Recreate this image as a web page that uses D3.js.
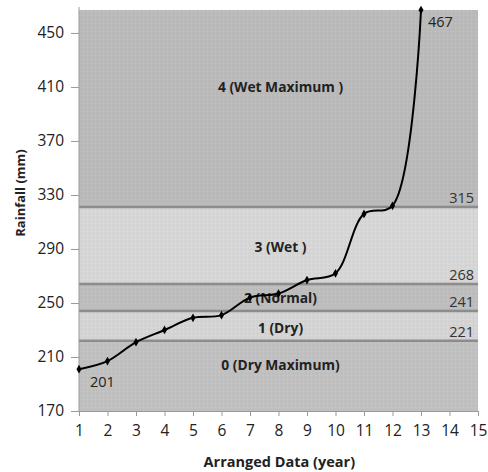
<!DOCTYPE html>
<html>
<head>
<meta charset="utf-8">
<script src="https://cdn.jsdelivr.net/npm/d3@7.9.0/dist/d3.min.js"></script>
<style>
  body { margin: 0; background: #fff; }
  svg text { font-family: "Open Sans", "DejaVu Sans", sans-serif; }
</style>
</head>
<body>
<svg id="chart" width="488" height="472"></svg>
<script>
// data
const years = [1, 2, 3, 4, 5, 6, 7, 8, 9, 10, 11, 12, 13];
const rainfall = [201, 207, 221, 230, 239, 241, 254, 257, 267, 272, 316, 322, 467];
const xTicks = [1, 2, 3, 4, 5, 6, 7, 8, 9, 10, 11, 12, 13, 14, 15];
const yTicks = [170, 210, 250, 290, 330, 370, 410, 450];
const thresholds = [222, 244, 264, 321];
const thresholdLabels = ['221', '241', '268', '315'];
const classNames = ['0 (Dry Maximum)', '1 (Dry)', '2 (Normal)', '3 (Wet )', '4 (Wet Maximum )'];
const classLabelY = [204, 231.5, 253.5, 291.5, 410];
const bandColors = ['#c0c0c0', '#d4d4d4', '#bdbdbd', '#d6d6d6', '#bababa'];

const svg = d3.select('#chart');
const margin = { left: 79, right: 10, top: 10, bottom: 61 };
const width = 488 - margin.left - margin.right;
const height = 472 - margin.top - margin.bottom;

const x = d3.scaleLinear().domain([1, 15]).range([margin.left, margin.left + width]);
const y = d3.scaleLinear().domain([170, 467]).range([margin.top + height, margin.top]);

// dotted texture
const defs = svg.append('defs');
bandColors.forEach((c, i) => {
  const p = defs.append('pattern')
    .attr('id', 'tex' + i)
    .attr('width', 4).attr('height', 4)
    .attr('patternUnits', 'userSpaceOnUse');
  p.append('rect').attr('width', 4).attr('height', 4).attr('fill', c);
  p.append('rect').attr('x', 1).attr('y', 1).attr('width', 1).attr('height', 1)
    .attr('fill', d3.color(c).darker(0.12));
  p.append('rect').attr('x', 3).attr('y', 3).attr('width', 1).attr('height', 1)
    .attr('fill', d3.color(c).brighter(0.12));
});

// bands
const edges = [170, ...thresholds, 467];
svg.append('g').selectAll('rect')
  .data(bandColors)
  .join('rect')
  .attr('x', x(1))
  .attr('width', x(15) - x(1))
  .attr('y', (_, i) => y(edges[i + 1]))
  .attr('height', (_, i) => y(edges[i]) - y(edges[i + 1]))
  .attr('fill', (_, i) => `url(#tex${i})`);

// threshold lines
svg.append('g').selectAll('line')
  .data(thresholds)
  .join('line')
  .attr('x1', x(1)).attr('x2', x(15))
  .attr('y1', d => y(d)).attr('y2', d => y(d))
  .attr('stroke', '#8c8c8c')
  .attr('stroke-width', 2.5);

svg.append('g').selectAll('text')
  .data(thresholds)
  .join('text')
  .attr('x', x(15) - 4)
  .attr('y', d => y(d) - 4)
  .attr('text-anchor', 'end')
  .attr('font-size', 14.5)
  .attr('fill', '#333')
  .text((_, i) => thresholdLabels[i]);

// class labels
svg.append('g').selectAll('text')
  .data(classNames)
  .join('text')
  .attr('x', x(8.07))
  .attr('y', (_, i) => y(classLabelY[i]))
  .attr('dy', '0.35em')
  .attr('text-anchor', 'middle')
  .attr('font-size', 13.8)
  .attr('font-weight', 'bold')
  .attr('fill', '#222')
  .text(d => d);

// axes
const yAxis = svg.append('g')
  .attr('transform', `translate(${x(1)},0)`)
  .call(d3.axisLeft(y).tickValues(yTicks).tickSize(8).tickPadding(7));
yAxis.select('.domain').attr('stroke', '#999').attr('d', `M0,${y(170)}V${margin.top - 3}`);
yAxis.selectAll('.tick line').attr('stroke', '#999');
yAxis.selectAll('.tick text').attr('font-size', 15.5).attr('fill', '#222');

const xAxis = svg.append('g')
  .attr('transform', `translate(0,${y(170)})`)
  .call(d3.axisBottom(x).tickValues(xTicks).tickSize(5).tickPadding(9));
xAxis.select('.domain').attr('stroke', '#999');
xAxis.selectAll('.tick line').attr('stroke', '#999');
xAxis.selectAll('.tick text').attr('font-size', 15.5).attr('fill', '#222');

// line
const line = d3.line()
  .x((d, i) => x(years[i]))
  .y(d => y(d))
  .curve(d3.curveCatmullRom.alpha(0.5));

svg.append('path')
  .datum(rainfall)
  .attr('d', line)
  .attr('fill', 'none')
  .attr('stroke', '#000')
  .attr('stroke-width', 2);

svg.append('g').selectAll('path')
  .data(rainfall)
  .join('path')
  .attr('transform', (d, i) => `translate(${x(years[i])},${y(d)})`)
  .attr('d', d3.symbol(d3.symbolDiamond, 22))
  .attr('fill', '#000');

// point labels
svg.append('text')
  .attr('x', x(years[0]) + 11)
  .attr('y', y(rainfall[0]) + 13)
  .attr('dy', '0.35em')
  .attr('font-size', 14.5).attr('fill', '#222')
  .text(rainfall[0]);
svg.append('text')
  .attr('x', x(years[12]) + 7)
  .attr('y', y(rainfall[12]) + 12)
  .attr('dy', '0.35em')
  .attr('font-size', 14.5).attr('fill', '#222')
  .text(rainfall[12]);

// axis titles
svg.append('text')
  .attr('x', x(8.03))
  .attr('y', 462)
  .attr('dy', '0.35em')
  .attr('text-anchor', 'middle')
  .attr('font-size', 14.5)
  .attr('font-weight', 'bold')
  .attr('fill', '#222')
  .text('Arranged Data (year)');
svg.append('text')
  .attr('transform', 'translate(20,193) rotate(-90)')
  .attr('dy', '0.35em')
  .attr('text-anchor', 'middle')
  .attr('font-size', 13)
  .attr('font-weight', 'bold')
  .attr('fill', '#222')
  .text('Rainfall (mm)');
</script>
</body>
</html>
